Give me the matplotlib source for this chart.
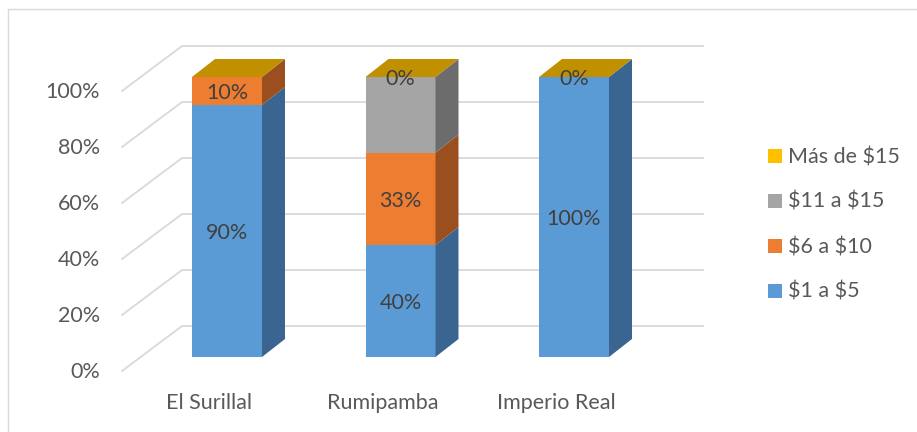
import matplotlib
matplotlib.use("Agg")
import matplotlib.pyplot as plt
from matplotlib.patches import Polygon, Rectangle

plt.rcParams["font.family"] = ["Lato", "DejaVu Sans"]
plt.rcParams["text.parse_math"] = False

categories = ["El Surillal", "Rumipamba", "Imperio Real"]
series = ["$1 a $5", "$6 a $10", "$11 a $15", "Más de $15"]
values = {
    "$1 a $5": [90, 40, 100],
    "$6 a $10": [10, 33, 0],
    "$11 a $15": [0, 27, 0],
    "Más de $15": [0, 0, 0],
}
labels = {
    "$1 a $5": ["90%", "40%", "100%"],
    "$6 a $10": ["10%", "33%", ""],
    "$11 a $15": ["", "", ""],
    "Más de $15": ["", "0%", "0%"],
}
yticks = [0, 20, 40, 60, 80, 100]

front = {"$1 a $5": "#5B9BD5", "$6 a $10": "#ED7D31", "$11 a $15": "#A5A5A5", "Más de $15": "#FFC000"}
side = {"$1 a $5": "#3A6590", "$6 a $10": "#9B4E1E", "$11 a $15": "#6C6C6C", "Más de $15": "#A67F00"}
top = {"$1 a $5": "#4A7DAE", "$6 a $10": "#C0642A", "$11 a $15": "#888888", "Más de $15": "#C09000"}

# pixel layout of the oblique "3D" box
PX = 2.8                      # pixels per percent
WALL_X0, WALL_X1, WALL_Y0 = 182, 703, 326
FLOOR_DX, FLOOR_DY = -60, 45  # back wall -> front edge
BAR_X0, BAR_STEP, BAR_W, BAR_Y0 = 192, 173.5, 70, 357
DEPTH_DX, DEPTH_DY = 23, -18  # bar front -> bar back
GRID = "#D9D9D9"
TXT = "#595959"
FS = 15.5

fig = plt.figure(figsize=(9.17, 4.32), dpi=100)
ax = fig.add_axes([0, 0, 1, 1])
ax.set_xlim(0, 917)
ax.set_ylim(432, 0)
ax.axis("off")

# chart border (only top/left visible)
ax.plot([8, 8, 917], [432, 9, 9], color=GRID, lw=1.0)

# gridlines: back wall + left side wall
for v in yticks:
    y = WALL_Y0 - v * PX
    ax.plot([WALL_X0 + FLOOR_DX, WALL_X0, WALL_X1], [y + FLOOR_DY, y, y], color=GRID, lw=1.3, zorder=1)
    ax.text(100, y + FLOOR_DY + 1, f"{v}%", ha="right", va="center", fontsize=FS, color=TXT)

for i, cat in enumerate(categories):
    x0 = BAR_X0 + i * BAR_STEP
    x1 = x0 + BAR_W
    base = 0
    for s in series:
        v = values[s][i]
        yb = BAR_Y0 - base * PX
        yt = BAR_Y0 - (base + v) * PX
        if v > 0:
            ax.add_patch(Rectangle((x0, yt), BAR_W, yb - yt, color=front[s], lw=0, zorder=3))
            ax.add_patch(Polygon([(x1, yb), (x1 + DEPTH_DX, yb + DEPTH_DY),
                                  (x1 + DEPTH_DX, yt + DEPTH_DY), (x1, yt)],
                                 closed=True, color=side[s], lw=0, zorder=3))
        base += v
    # top face takes the colour of the last series
    yt = BAR_Y0 - base * PX
    last = series[-1]
    ax.add_patch(Polygon([(x0, yt), (x0 + DEPTH_DX, yt + DEPTH_DY),
                          (x1 + DEPTH_DX, yt + DEPTH_DY), (x1, yt)],
                         closed=True, color=top[last], lw=0, zorder=3))
    # data labels
    base = 0
    for s in series:
        v = values[s][i]
        if labels[s][i]:
            yc = BAR_Y0 - (base + v / 2) * PX
            ax.text(x0 + BAR_W / 2, yc + 2, labels[s][i], ha="center", va="center",
                    fontsize=FS, color="#404040", zorder=5)
        base += v
    ax.text(x0 + BAR_W / 2 - 18, 403, cat, ha="center", va="center", fontsize=FS, color=TXT)

# legend, top entry is the last series
for k, s in enumerate(series[::-1]):
    yc = 156 + k * 45
    ax.add_patch(Rectangle((768, yc - 7), 14, 14, color=front[s], lw=0))
    ax.text(788, yc + 1, s, ha="left", va="center", fontsize=FS, color=TXT)

fig.savefig("out.png", dpi=100)
